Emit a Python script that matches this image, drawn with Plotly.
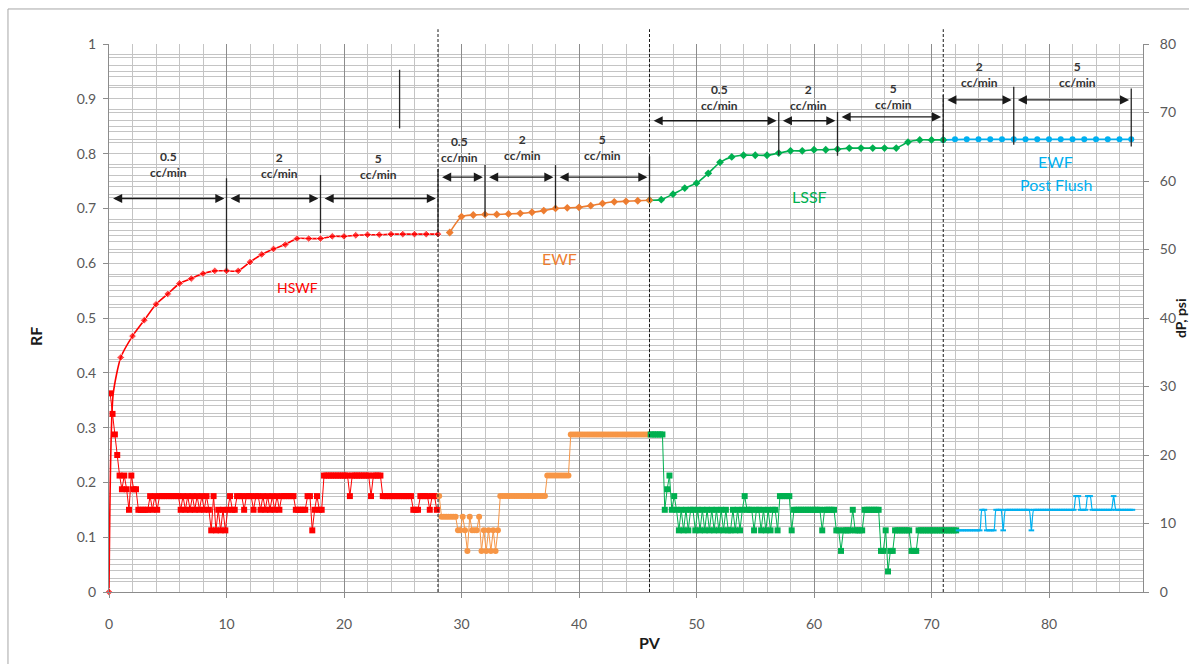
import numpy as np
import plotly.graph_objects as go

# ---------------- Recovery factor (left axis) ----------------
hswf_pv = [0, 0.35, 1, 2, 3, 4, 5, 6, 7, 8, 9, 10, 11, 12, 13, 14, 15,
           16, 17, 18, 19, 20, 21, 22, 23, 24, 25, 26, 27, 28]
hswf_rf = [0, 0.36, 0.428, 0.467, 0.496, 0.525, 0.544, 0.563, 0.572, 0.581,
           0.586, 0.586, 0.586, 0.602, 0.616, 0.626, 0.634, 0.645, 0.645, 0.645,
           0.649, 0.649, 0.651, 0.652, 0.652, 0.653, 0.653, 0.653, 0.653, 0.653]

ewf_pv = [29, 30, 31, 32, 33, 34, 35, 36, 37, 38, 39, 40, 41, 42, 43, 44, 45, 46]
ewf_rf = [0.656, 0.685, 0.688, 0.689, 0.689, 0.690, 0.691, 0.693, 0.696, 0.700,
          0.701, 0.702, 0.705, 0.709, 0.712, 0.713, 0.714, 0.715]

lssf_pv = [46, 47, 48, 49, 50, 51, 52, 53, 54, 55, 56, 57, 58, 59, 60, 61, 62,
           63, 64, 65, 66, 67, 68, 69, 70, 71]
lssf_rf = [0.715, 0.716, 0.726, 0.737, 0.746, 0.764, 0.784, 0.794, 0.797, 0.797,
           0.797, 0.801, 0.805, 0.805, 0.807, 0.807, 0.808, 0.810, 0.810, 0.810,
           0.810, 0.810, 0.821, 0.825, 0.825, 0.825]

pf_pv = [71, 72, 73, 74, 75, 76, 77, 78, 79, 80, 81, 82, 83, 84, 85, 86, 87]
pf_rf = [0.825, 0.826, 0.826, 0.826, 0.826, 0.826, 0.826, 0.826, 0.826, 0.826,
         0.826, 0.826, 0.826, 0.826, 0.826, 0.826, 0.826]

# ---------------- Pressure drop (right axis), logged every 0.2 PV ----------------
DP_STEP = 0.2
hswf_dp_start = 0.1
hswf_dp = [
    29, 26, 23, 20, 17, 15, 17, 15, 12, 17,
    15, 15, 12, 12, 12, 12, 12, 14, 12, 14,
    12, 14, 14, 14, 14, 14, 14, 14, 14, 14,
    12, 14, 12, 14, 12, 14, 12, 14, 12, 14,
    12, 14, 12, 9, 14, 9, 12, 9, 12, 9,
    12, 14, 12, 12, 14, 14, 14, 12, 14, 14,
    14, 12, 14, 14, 12, 14, 12, 14, 12, 14,
    12, 14, 12, 14, 14, 14, 14, 14, 14, 12,
    12, 12, 12, 12, 14, 14, 9, 12, 14, 12,
    12, 17, 17, 17, 17, 17, 17, 17, 17, 17,
    17, 17, 14, 17, 17, 17, 17, 17, 17, 17,
    17, 14, 17, 17, 17, 17, 14, 14, 14, 14,
    14, 14, 14, 14, 14, 14, 14, 14, 14, 12,
    12, 12, 14, 14, 14, 14, 12, 14, 14, 12,
]

ewf_dp_start = 28.1
ewf_dp = [
    14, 11, 11, 11, 11, 11, 11, 11, 9, 9,
    11, 9, 6, 11, 9, 9, 9, 11, 6, 9,
    6, 9, 6, 9, 6, 9, 14, 14, 14, 14,
    14, 14, 14, 14, 14, 14, 14, 14, 14, 14,
    14, 14, 14, 14, 14, 14, 17, 17, 17, 17,
    17, 17, 17, 17, 17, 17, 23, 23, 23, 23,
    23, 23, 23, 23, 23, 23, 23, 23, 23, 23,
    23, 23, 23, 23, 23, 23, 23, 23, 23, 23,
    23, 23, 23, 23, 23, 23, 23, 23, 23, 23,
]

lssf_dp_start = 46.1
lssf_dp = [
    23, 23, 23, 23, 23, 23, 12, 15, 17, 12,
    14, 12, 9, 12, 9, 12, 9, 12, 12, 9,
    12, 9, 12, 9, 12, 9, 12, 9, 12, 9,
    12, 9, 12, 9, 9, 12, 9, 12, 9, 12,
    14, 12, 12, 12, 9, 12, 12, 9, 12, 9,
    12, 9, 12, 12, 9, 14, 14, 14, 14, 14,
    9, 12, 12, 12, 12, 12, 12, 12, 12, 12,
    12, 12, 12, 9, 12, 12, 12, 12, 12, 9,
    9, 6, 9, 9, 9, 9, 12, 9, 9, 9,
    9, 12, 12, 12, 12, 12, 12, 12, 6, 6,
    9, 3, 6, 6, 9, 9, 9, 9, 9, 9,
    9, 6, 6, 6, 9, 9, 9, 9, 9, 9,
    9, 9, 9, 9, 9, 9, 9, 9, 9, 9,
    9,
]

pf_dp_start = 72.3
pf_dp = [
    9, 9, 9, 9, 9, 9, 9, 9, 9, 9,
    12, 12, 9, 9, 9, 9, 12, 12, 12, 9,
    12, 12, 12, 12, 12, 12, 12, 12, 12, 12,
    12, 9, 12, 12, 12, 12, 12, 12, 12, 12,
    12, 12, 12, 12, 12, 12, 12, 12, 12, 12,
    14, 14, 12, 12, 12, 14, 14, 12, 12, 12,
    12, 12, 12, 12, 12, 12, 14, 12, 12, 12,
    12, 12, 12, 12, 12,
]

# ---------------- Flooding stages and injection rates ----------------
stage_breaks = [28, 46, 71]
# (rate, from PV, to PV, arrow level in RF units)
rate_spans = [
    ("0.5", 0, 10, 0.718), ("2", 10, 18, 0.718), ("5", 18, 28, 0.718),
    ("0.5", 28, 32, 0.757), ("2", 32, 38, 0.757), ("5", 38, 46, 0.757),
    ("0.5", 46, 57, 0.860), ("2", 57, 62, 0.860), ("5", 62, 71, 0.867),
    ("2", 71, 77, 0.898), ("5", 77, 87, 0.898),
]
# rate label anchors (PV, RF)
rate_label_pos = [
    (5.03, 0.780), (14.5, 0.778), (22.9, 0.776),
    (29.8, 0.808), (35.15, 0.812), (42.0, 0.812),
    (51.95, 0.902), (59.5, 0.902), (66.8, 0.905),
    (74.1, 0.944), (82.4, 0.944),
]
# rate-change markers: (PV, RF from, RF to)
rate_ticks = [
    (10, 0.586, 0.755), (18, 0.655, 0.761), (28, 0.655, 0.772),
    (32, 0.685, 0.779), (38, 0.700, 0.779), (46, 0.715, 0.795),
    (57, 0.797, 0.876), (62, 0.796, 0.876), (71, 0.819, 0.907),
    (77, 0.816, 0.922), (87, 0.813, 0.919), (24.73, 0.846, 0.953),
]

RED = "#FF0000"
ORANGE = "#ED7D31"
ORANGE_DP = "#F79646"
GREEN = "#00B050"
BLUE = "#00B0F0"
FONT = "Lato, 'Open Sans', sans-serif"


def dp_axis(start, values):
    return np.round(start + DP_STEP * np.arange(len(values)), 2)


fig = go.Figure()

# pressure-drop traces
fig.add_trace(go.Scatter(
    x=dp_axis(hswf_dp_start, hswf_dp), y=hswf_dp, yaxis="y2", mode="lines+markers",
    line=dict(color=RED, width=1), marker=dict(symbol="square", size=6, color=RED),
    name="HSWF dP", showlegend=False))
fig.add_trace(go.Scatter(
    x=dp_axis(ewf_dp_start, ewf_dp), y=ewf_dp, yaxis="y2", mode="lines+markers",
    line=dict(color=ORANGE_DP, width=1), marker=dict(symbol="circle", size=6, color=ORANGE_DP),
    name="EWF dP", showlegend=False))
fig.add_trace(go.Scatter(
    x=dp_axis(lssf_dp_start, lssf_dp), y=lssf_dp, yaxis="y2", mode="lines+markers",
    line=dict(color=GREEN, width=1), marker=dict(symbol="square", size=6, color=GREEN),
    name="LSSF dP", showlegend=False))
fig.add_trace(go.Scatter(
    x=dp_axis(pf_dp_start, pf_dp), y=pf_dp, yaxis="y2", mode="lines+markers",
    line=dict(color=BLUE, width=1.2, shape="spline", smoothing=0.8),
    marker=dict(symbol="line-ew", size=4, line=dict(color=BLUE, width=2)),
    name="Post flush dP", showlegend=False))

# recovery-factor traces
fig.add_trace(go.Scatter(
    x=pf_pv, y=pf_rf, mode="lines+markers",
    line=dict(color=BLUE, width=1.6),
    marker=dict(symbol="circle", size=6, color=BLUE),
    name="EWF Post Flush RF", showlegend=False))
fig.add_trace(go.Scatter(
    x=lssf_pv, y=lssf_rf, mode="lines+markers",
    line=dict(color=GREEN, width=1.6, shape="spline", smoothing=0.6),
    marker=dict(symbol="diamond", size=6, color=GREEN),
    name="LSSF RF", showlegend=False))
fig.add_trace(go.Scatter(
    x=ewf_pv, y=ewf_rf, mode="lines+markers",
    line=dict(color=ORANGE, width=1.6, shape="spline", smoothing=0.6),
    marker=dict(symbol="diamond", size=6, color=ORANGE),
    name="EWF RF", showlegend=False))
fig.add_trace(go.Scatter(
    x=hswf_pv, y=hswf_rf, mode="lines+markers",
    line=dict(color=RED, width=1.6, shape="spline", smoothing=0.6),
    marker=dict(symbol="diamond", size=[6, 0] + [6] * (len(hswf_pv) - 2), color=RED),
    name="HSWF RF", showlegend=False, cliponaxis=False))

shapes = []
# outer chart frame
shapes.append(dict(type="rect", xref="paper", yref="paper",
                   x0=-0.0977, x1=1.2, y0=-0.4, y1=1.0639,
                   line=dict(color="#A6A6A6", width=1), layer="below"))
# stage boundaries
for pv in stage_breaks:
    shapes.append(dict(type="line", xref="x", yref="paper", x0=pv, x1=pv, y0=0, y1=1.027,
                       line=dict(color="#1A1A1A", width=1, dash="3px,2px")))
# rate change markers
for pv, r0, r1 in rate_ticks:
    shapes.append(dict(type="line", xref="x", yref="y", x0=pv, x1=pv, y0=r0, y1=r1,
                       line=dict(color="#262626", width=1.3)))

annotations = []
# double-headed rate arrows
for rate, a, b, lvl in rate_spans:
    annotations.append(dict(
        x=b - 0.18, y=lvl, ax=a + 0.22, ay=lvl, xref="x", yref="y", axref="x", ayref="y",
        text="", showarrow=True, arrowhead=2, arrowsize=1.3, arrowwidth=1.4,
        arrowcolor="#1A1A1A", arrowside="end+start", standoff=0, startstandoff=0))
# rate labels
for (rate, a, b, lvl), (lx, ly) in zip(rate_spans, rate_label_pos):
    annotations.append(dict(
        x=lx, y=ly, xref="x", yref="y", showarrow=False,
        text=f"<b>{rate}</b><br><b>cc/min</b>", align="center",
        font=dict(family=FONT, size=12, color="#333333"),
        xanchor="center", yanchor="middle"))

# stage names
stage_font = dict(family=FONT, size=16)
annotations += [
    dict(x=16.07, y=0.556, xref="x", yref="y", text="HSWF", showarrow=False,
         font=dict(family=FONT, size=14, color=RED), xanchor="center", yanchor="middle"),
    dict(x=38.3, y=0.609, xref="x", yref="y", text="EWF", showarrow=False,
         font=dict(stage_font, color=ORANGE), xanchor="center", yanchor="middle"),
    dict(x=59.6, y=0.721, xref="x", yref="y", text="LSSF", showarrow=False,
         font=dict(stage_font, color=GREEN), xanchor="center", yanchor="middle"),
    dict(x=80.58, y=0.785, xref="x", yref="y", text="EWF", showarrow=False,
         font=dict(stage_font, color=BLUE), xanchor="center", yanchor="middle"),
    dict(x=80.58, y=0.743, xref="x", yref="y", text="Post Flush", showarrow=False,
         font=dict(stage_font, color=BLUE), xanchor="center", yanchor="middle"),
]

# axis titles
title_font = dict(family=FONT, size=16, color="#1A1A1A")
annotations += [
    dict(x=-0.0716, y=0.467, xref="paper", yref="paper", text="<b>RF</b>",
         textangle=-90, showarrow=False, font=title_font,
         xanchor="center", yanchor="middle"),
    dict(x=0.523, y=-0.093, xref="paper", yref="paper", text="<b>PV</b>",
         showarrow=False, font=title_font, xanchor="center", yanchor="middle"),
    dict(x=1.0358, y=0.5, xref="paper", yref="paper", text="<b>dP, psi</b>",
         textangle=-90, showarrow=False,
         font=dict(family=FONT, size=14, color="#1A1A1A"),
         xanchor="center", yanchor="middle"),
]

GRID = "#C4C4C4"
AXIS = "#8C8C8C"
tick_font = dict(family=FONT, size=14, color="#595959")

fig.update_layout(
    width=1189, height=664,
    margin=dict(l=109, r=46, t=44, b=72),
    paper_bgcolor="white", plot_bgcolor="white",
    showlegend=False,
    font=dict(family=FONT),
    shapes=shapes,
    annotations=annotations,
    xaxis=dict(
        range=[0, 88], tick0=0, dtick=10, showgrid=True, gridcolor=AXIS, gridwidth=1,
        minor=dict(dtick=2, tick0=0, showgrid=True, gridcolor=GRID, gridwidth=1),
        ticks="outside", ticklen=5, tickcolor=AXIS, showline=True, linecolor=AXIS,
        zeroline=False, tickfont=tick_font, ticklabelstandoff=14),
    yaxis=dict(
        range=[0, 1], tick0=0, dtick=0.1, showgrid=True, gridcolor=GRID, gridwidth=1,
        minor=dict(dtick=0.02, tick0=0, showgrid=True, gridcolor=GRID, gridwidth=1),
        ticks="outside", ticklen=5, tickcolor=AXIS, showline=True, linecolor=AXIS,
        zeroline=False, tickfont=tick_font, ticklabelstandoff=4),
    yaxis2=dict(
        range=[0, 80], tick0=0, dtick=10, overlaying="y", side="right",
        showgrid=True, gridcolor=GRID, gridwidth=1,
        minor=dict(dtick=2, tick0=0, showgrid=True, gridcolor=GRID, gridwidth=1),
        ticks="outside", ticklen=5, tickcolor=AXIS, showline=True, linecolor=AXIS,
        zeroline=False, tickfont=tick_font, ticklabelstandoff=8),
)

fig.write_html("out.html")
